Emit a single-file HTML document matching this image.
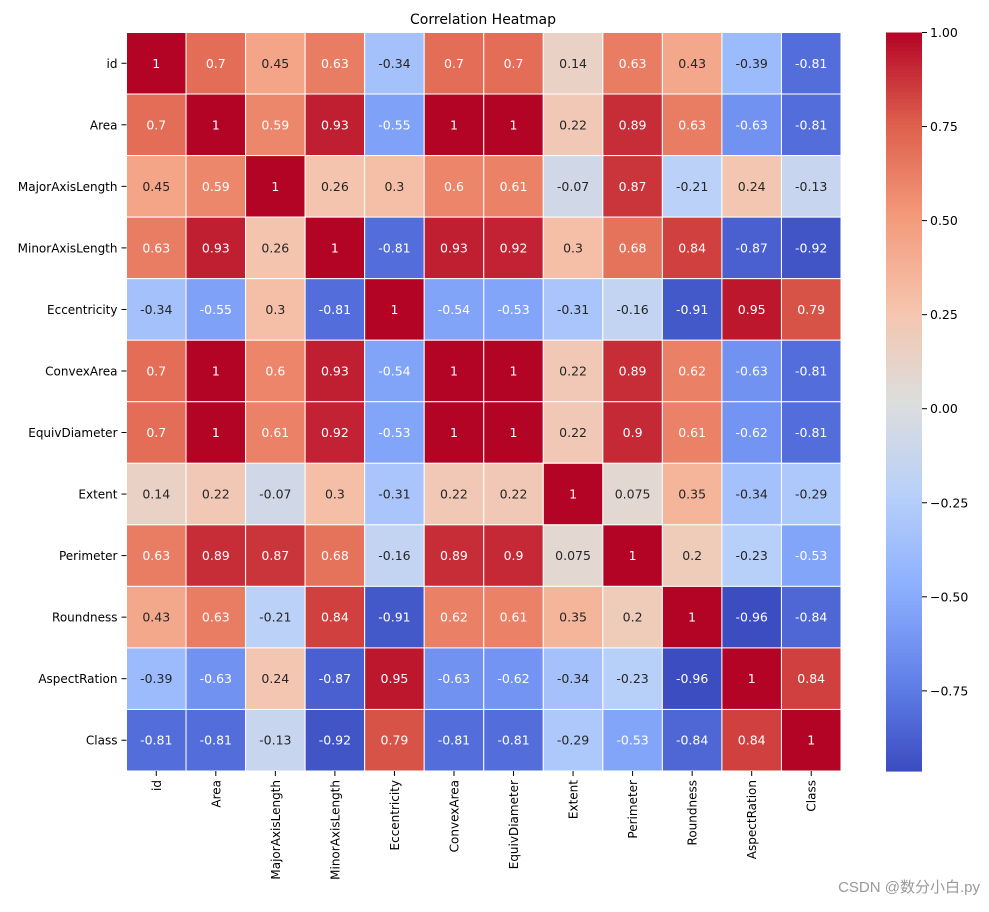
<!DOCTYPE html>
<html><head><meta charset="utf-8"><style>
body{margin:0;background:#fff;width:989px;height:907px;overflow:hidden}
svg text{font-family:"DejaVu Sans","Liberation Sans","Noto Sans CJK SC",sans-serif}
</style></head><body>
<svg id="chart" width="989" height="907" xmlns="http://www.w3.org/2000/svg">
<text x="483" y="24" font-size="14" text-anchor="middle">Correlation Heatmap</text>
<g id="cells"></g><g id="ylab"></g><g id="xlab"></g><g id="cbar"></g>
<text x="980" y="892" font-size="15" fill="#999" text-anchor="end" style="font-family:'Liberation Sans','Noto Sans CJK SC',sans-serif">CSDN @数分小白.py</text>
</svg>
<script>
const labels=["id","Area","MajorAxisLength","MinorAxisLength","Eccentricity","ConvexArea","EquivDiameter","Extent","Perimeter","Roundness","AspectRation","Class"];
const matrix=[
[1,0.7,0.45,0.63,-0.34,0.7,0.7,0.14,0.63,0.43,-0.39,-0.81],
[0.7,1,0.59,0.93,-0.55,1,1,0.22,0.89,0.63,-0.63,-0.81],
[0.45,0.59,1,0.26,0.3,0.6,0.61,-0.07,0.87,-0.21,0.24,-0.13],
[0.63,0.93,0.26,1,-0.81,0.93,0.92,0.3,0.68,0.84,-0.87,-0.92],
[-0.34,-0.55,0.3,-0.81,1,-0.54,-0.53,-0.31,-0.16,-0.91,0.95,0.79],
[0.7,1,0.6,0.93,-0.54,1,1,0.22,0.89,0.62,-0.63,-0.81],
[0.7,1,0.61,0.92,-0.53,1,1,0.22,0.9,0.61,-0.62,-0.81],
[0.14,0.22,-0.07,0.3,-0.31,0.22,0.22,1,0.075,0.35,-0.34,-0.29],
[0.63,0.89,0.87,0.68,-0.16,0.89,0.9,0.075,1,0.2,-0.23,-0.53],
[0.43,0.63,-0.21,0.84,-0.91,0.62,0.61,0.35,0.2,1,-0.96,-0.84],
[-0.39,-0.63,0.24,-0.87,0.95,-0.63,-0.62,-0.34,-0.23,-0.96,1,0.84],
[-0.81,-0.81,-0.13,-0.92,0.79,-0.81,-0.81,-0.29,-0.53,-0.84,0.84,1]];
const cbarTicks=[1,0.75,0.5,0.25,0,-0.25,-0.5,-0.75];
const vmin=-0.963,vmax=1;
const X0=126.5,Y0=32.5,X1=841,Y1=771;
const cw=(X1-X0)/12,ch=(Y1-Y0)/12;
const stops=[[59,76,192],[98,130,234],[141,176,254],[184,208,249],[221,221,221],[245,196,173],[244,154,123],[222,96,77],[180,4,38]];
function cmap(v){let t=Math.max(0,Math.min(1,(v-vmin)/(vmax-vmin)))*8;let i=Math.min(7,Math.floor(t)),f=t-i;
 const c=stops[i].map((a,k)=>Math.round(a+(stops[i+1][k]-a)*f));return c;}
function lum(c){const l=c.map(x=>{x/=255;return x<=0.03928?x/12.92:Math.pow((x+0.055)/1.055,2.4)});return 0.2126*l[0]+0.7152*l[1]+0.0722*l[2];}
const NS="http://www.w3.org/2000/svg";
function mk(tag,attrs,parent){const e=document.createElementNS(NS,tag);for(const k in attrs)e.setAttribute(k,attrs[k]);parent.appendChild(e);return e;}
const cells=document.getElementById('cells'),yl=document.getElementById('ylab'),xl=document.getElementById('xlab'),cb=document.getElementById('cbar');
matrix.forEach((row,r)=>row.forEach((v,c)=>{
 const col=cmap(v);
 const rect=mk('rect',{x:X0+c*cw,y:Y0+r*ch,width:cw,height:ch,fill:`rgb(${col})`,stroke:'#fff','stroke-width':1},cells);
 
 
 const t=mk('text',{x:X0+(c+0.5)*cw,y:Y0+(r+0.5)*ch+4.5,'font-size':12.5,'text-anchor':'middle',fill:lum(col)<0.408?'#fff':'#262626'},cells);
 t.textContent=String(v);
 
 
}));
labels.forEach((l,i)=>{
 const y=Y0+(i+0.5)*ch;
 mk('line',{x1:X0-5,x2:X0,y1:y,y2:y,stroke:'#000'},yl);
 const t=mk('text',{x:X0-9,y:y+4.5,'font-size':12,'text-anchor':'end'},yl);t.textContent=l;
 
 
 const x=X0+(i+0.5)*cw;
 mk('line',{x1:x,x2:x,y1:Y1,y2:Y1+5,stroke:'#000'},xl);
 const u=mk('text',{x:0,y:0,'font-size':12,'text-anchor':'end',transform:`translate(${x+4.5},${Y1+9}) rotate(-90)`},xl);u.textContent=l;
 
 
});
const CX0=886,CX1=922,n=200;
for(let i=0;i<n;i++){const v=vmax-(vmax-vmin)*(i+0.5)/n;const col=cmap(v);
 const r=mk('rect',{x:CX0,y:Y0+(Y1-Y0)*i/n,width:CX1-CX0,height:(Y1-Y0)/n+0.6,fill:`rgb(${col})`},cb);
 
 }
cbarTicks.forEach(v=>{const y=Y0+(vmax-v)/(vmax-vmin)*(Y1-Y0);
 mk('line',{x1:CX1,x2:CX1+5,y1:y,y2:y,stroke:'#000'},cb);
 const t=mk('text',{x:CX1+8,y:y+4.5,'font-size':12.5},cb);t.textContent=v.toFixed(2).replace('-','−');
 
 });
</script>
</body></html>
